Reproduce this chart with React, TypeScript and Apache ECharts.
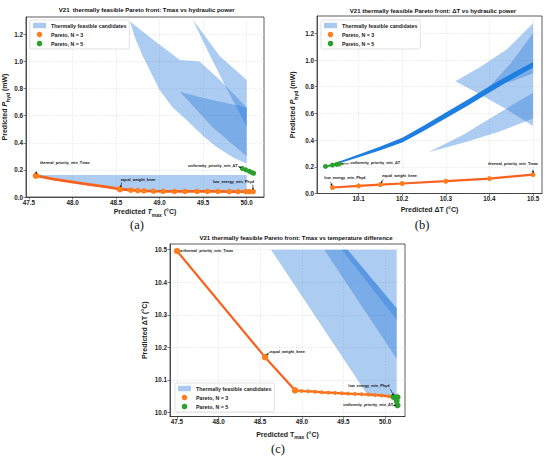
import React, { useEffect, useRef } from 'react';
import * as echarts from 'echarts';

// ---------- ticks ----------
const A_X_TICKS = [47.5, 48.0, 48.5, 49.0, 49.5, 50.0];
const A_Y_TICKS = [0.0, 0.2, 0.4, 0.6, 0.8, 1.0, 1.2];
const B_X_TICKS = [10.1, 10.2, 10.3, 10.4, 10.5];
const B_Y_TICKS = [0.0, 0.2, 0.4, 0.6, 0.8, 1.0, 1.2];
const C_X_TICKS = [47.5, 48.0, 48.5, 49.0, 49.5, 50.0];
const C_Y_TICKS = [10.0, 10.1, 10.2, 10.3, 10.4, 10.5];

// ---------- panel (a): Tmax vs Phyd ----------
const A_OR_X = [47.58, 47.78, 48.12, 48.39, 48.545, 48.67, 48.75, 48.82, 48.93, 49.04, 49.17, 49.29, 49.43, 49.55, 49.67, 49.80, 49.90, 49.99, 50.03, 50.075];
const A_OR_Y = [0.157, 0.132, 0.098, 0.075, 0.058, 0.050, 0.047, 0.045, 0.043, 0.042, 0.041, 0.041, 0.041, 0.041, 0.041, 0.040, 0.040, 0.040, 0.040, 0.040];
const A_OR_MARK = [1, 0, 0, 0, 1, 1, 1, 1, 1, 1, 1, 1, 1, 1, 1, 1, 1, 1, 1, 1];
const A_GR_X = [49.95, 49.99, 50.03, 50.06, 50.08];
const A_GR_Y = [0.21, 0.20, 0.19, 0.18, 0.175];
const A_BAND_TOP = 0.162;
const A_BAND_RIGHT = 50.0;
const A_FEAS_1 = [[48.66, 1.294], [48.93, 1.159], [49.234, 1.011], [49.46, 1.0], [49.693, 0.863], [50.0, 0.66], [50.0, 0.248], [49.85, 0.29], [49.65, 0.371], [49.5, 0.45], [49.31, 0.568], [49.15, 0.66], [49.0, 0.79], [48.81, 1.035], [48.72, 1.17]];
const A_FEAS_2 = [[49.379, 1.311], [49.69, 1.04], [50.0, 0.863], [50.0, 0.52], [49.77, 0.80], [49.57, 1.055]];
const A_FEAS_3 = [[49.234, 0.777], [49.5, 0.73], [50.0, 0.66], [50.0, 0.30], [49.8, 0.41], [49.6, 0.52]];
const A_ANN_LABELS = ['thermal_priority_min_Tmax', 'equal_weight_knee', 'uniformity_priority_min_ΔT', 'low_energy_min_Phyd'];
const A_ANN_TEXT = [[47.626, 0.253], [48.553, 0.125], [49.325, 0.231], [49.613, 0.113]];
const A_ANN_FROM = [[47.585, 0.19], [48.565, 0.108], [49.9, 0.226], [50.07, 0.092]];
const A_ANN_TO = [[47.582, 0.168], [48.552, 0.07], [49.94, 0.215], [50.073, 0.052]];

// ---------- panel (b): dT vs Phyd ----------
const B_OR_X = [10.04, 10.1, 10.15, 10.2, 10.3, 10.4, 10.5];
const B_OR_Y = [0.045, 0.057, 0.067, 0.075, 0.092, 0.112, 0.142];
const B_GR_X = [10.024, 10.04, 10.05, 10.056];
const B_GR_Y = [0.203, 0.213, 0.218, 0.222];
const B_CLOUD_X = [10.04, 10.1, 10.15, 10.2, 10.25, 10.3, 10.35, 10.4, 10.45, 10.5];
const B_CLOUD_UP = [0.221, 0.293, 0.352, 0.417, 0.51, 0.607, 0.703, 0.803, 0.897, 0.985];
const B_CLOUD_LO = [0.209, 0.271, 0.324, 0.383, 0.47, 0.563, 0.657, 0.757, 0.853, 0.945];
const B_FEAS_1 = [[10.322, 0.842], [10.38, 0.95], [10.44, 1.08], [10.5, 1.275], [10.5, 0.505], [10.44, 0.63], [10.38, 0.74]];
const B_FEAS_2 = [[10.26, 0.31], [10.34, 0.44], [10.42, 0.60], [10.5, 0.755], [10.5, 0.5625], [10.42, 0.46], [10.34, 0.38]];
const B_FEAS_3 = [[10.40, 0.80], [10.45, 0.98], [10.5, 1.20], [10.5, 0.90], [10.45, 0.84]];
const B_ANN_LABELS = ['low_energy_min_Phyd', 'equal_weight_knee', 'uniformity_priority_min_ΔT', 'thermal_priority_min_Tmax'];
const B_ANN_TEXT = [[10.0213, 0.1125], [10.154, 0.13], [10.081, 0.225], [10.397, 0.22]];
const B_ANN_FROM = [[10.036, 0.085], [10.157, 0.104], [10.078, 0.223], [10.5, 0.18]];
const B_ANN_TO = [[10.039, 0.056], [10.151, 0.077], [10.06, 0.222], [10.5, 0.152]];

// ---------- panel (c): Tmax vs dT ----------
const C_OR_X = [47.5, 48.558, 48.918, 48.999, 49.078, 49.159, 49.239, 49.318, 49.399, 49.479, 49.558, 49.639, 49.719, 49.798, 49.88, 49.96, 50.04, 50.10];
const C_OR_Y = [10.496, 10.170, 10.068, 10.066, 10.065, 10.064, 10.062, 10.061, 10.060, 10.059, 10.058, 10.057, 10.056, 10.055, 10.054, 10.052, 10.050, 10.048];
const C_OR_BIG = [1, 1, 1, 0, 0, 0, 0, 0, 0, 0, 0, 0, 0, 0, 0, 0, 0, 0];
const C_GR_X = [50.10, 50.13, 50.15, 50.14, 50.15];
const C_GR_Y = [10.048, 10.044, 10.047, 10.035, 10.022];
const C_FEAS_1 = [[48.63, 10.5], [50.14, 10.5], [50.14, 10.048], [49.80, 10.05]];
const C_FEAS_2 = [[49.27, 10.5], [49.55, 10.5], [50.14, 10.32], [50.14, 10.165]];
const C_FEAS_3 = [[49.48, 10.5], [49.55, 10.5], [50.14, 10.32], [50.14, 10.285]];
const C_ANN_LABELS = ['thermal_priority_min_Tmax', 'equal_weight_knee', 'low_energy_min_Phyd', 'uniformity_priority_min_ΔT'];
const C_ANN_TEXT = [[47.576, 10.496], [48.618, 10.187], [49.559, 10.082], [49.499, 10.0215]];
const C_ANN_FROM = [[47.574, 10.496], [48.615, 10.185], [50.06, 10.073], [50.09, 10.022]];
const C_ANN_TO = [[47.53, 10.496], [48.572, 10.176], [50.105, 10.052], [50.135, 10.022]];

// ---------- styling ----------
const FONT = 'Liberation Sans, Arial, sans-serif';
const SERIF = 'Liberation Serif, Times New Roman, serif';
const LIGHT = 'rgba(40,122,218,0.38)';
const LEGEND_LIGHT = '#a9c9ee';
const CLOUD = '#1f7fe0';
const ORANGE_LINE = '#f8621e';
const ORANGE = '#ff7f1e';
const GREEN = '#2ca02c';
const INK = '#222';

const NAME_RICH = {
  n: { fontSize: 7, fontWeight: 'bold', fontFamily: FONT, color: INK, lineHeight: 11, verticalAlign: 'middle' },
  i: { fontSize: 7, fontWeight: 'bold', fontStyle: 'italic', fontFamily: FONT, color: INK, lineHeight: 11, verticalAlign: 'middle' },
  s: { fontSize: 5, fontWeight: 'bold', fontFamily: FONT, color: INK, verticalAlign: 'bottom' },
};

function axis(gridIndex: number, min: number, max: number, ticks: number[], name: string, nameGap: number, labelMargin: number) {
  return {
    type: 'value',
    gridIndex,
    min,
    max,
    name,
    nameLocation: 'middle',
    nameGap,
    nameTextStyle: { rich: NAME_RICH },
    axisLine: { show: true, onZero: false, lineStyle: { color: '#333', width: 0.8 } },
    axisTick: { show: true, length: 2.5, customValues: ticks, lineStyle: { color: '#333', width: 0.6 } },
    axisLabel: {
      customValues: ticks,
      formatter: (v: number) => v.toFixed(1),
      fontSize: 6.3,
      fontWeight: 'bold',
      fontFamily: FONT,
      color: INK,
      margin: labelMargin,
    },
    splitLine: { show: true, lineStyle: { color: '#dcdcdc', width: 0.6, type: [1.5, 1.5] } },
  };
}

function polySeries(name: string, gi: number, polys: { pts: number[][]; color: string }[], z: number) {
  return {
    type: 'custom',
    name,
    xAxisIndex: gi,
    yAxisIndex: gi,
    coordinateSystem: 'cartesian2d',
    data: polys.map((p) => p.pts[0]),
    encode: { x: 0, y: 1 },
    itemStyle: { color: LEGEND_LIGHT },
    z,
    silent: true,
    renderItem: (params: any, api: any) => {
      const p = polys[params.dataIndex];
      return {
        type: 'polygon',
        shape: { points: p.pts.map((q) => api.coord(q)) },
        style: { fill: p.color, stroke: 'none' },
      };
    },
  };
}

function annSeries(gi: number, labels: string[], text: number[][], from: number[][], to: number[][]) {
  return {
    type: 'custom',
    name: 'annotations',
    xAxisIndex: gi,
    yAxisIndex: gi,
    coordinateSystem: 'cartesian2d',
    data: to.map((t) => t),
    encode: { x: 0, y: 1 },
    z: 10,
    silent: true,
    renderItem: (params: any, api: any) => {
      const i = params.dataIndex;
      const p = api.coord(to[i]);
      const s = api.coord(from[i]);
      const t = api.coord(text[i]);
      const dx = p[0] - s[0];
      const dy = p[1] - s[1];
      const len = Math.hypot(dx, dy) || 1;
      const ux = dx / len;
      const uy = dy / len;
      const hl = 2.2;
      const hw = 1.1;
      const bx = p[0] - ux * hl;
      const by = p[1] - uy * hl;
      return {
        type: 'group',
        children: [
          { type: 'line', shape: { x1: s[0], y1: s[1], x2: bx, y2: by }, style: { stroke: '#111', lineWidth: 0.6 } },
          { type: 'polygon', shape: { points: [p, [bx - uy * hw, by + ux * hw], [bx + uy * hw, by - ux * hw]] }, style: { fill: '#111' } },
          {
            type: 'text',
            x: t[0],
            y: t[1],
            style: {
              text: labels[i],
              fontSize: 3.8,
              fontWeight: 'bold',
              fontFamily: FONT,
              fill: '#111',
              align: 'left',
              verticalAlign: 'middle',
              textAlign: 'left',
              textVerticalAlign: 'middle',
            },
          },
        ],
      };
    },
  };
}

function lineSeries(name: string, gi: number, xs: number[], ys: number[], lineColor: string, markColor: string, sizes: number[], z: number, width: number) {
  return {
    type: 'line',
    name,
    xAxisIndex: gi,
    yAxisIndex: gi,
    data: xs.map((x, i) => ({
      value: [x, ys[i]],
      symbol: sizes[i] > 0 ? 'circle' : 'none',
      symbolSize: sizes[i] > 0 ? sizes[i] : 0,
    })),
    showAllSymbol: true,
    lineStyle: { color: lineColor, width },
    itemStyle: { color: markColor, borderWidth: 0 },
    z,
    silent: true,
  };
}

function legend(left: number, top: number) {
  return {
    left,
    top,
    orient: 'vertical',
    backgroundColor: '#fff',
    borderColor: '#cfcfcf',
    borderWidth: 0.6,
    borderRadius: 2,
    padding: [2.5, 3, 2.5, 3],
    itemGap: 3,
    itemWidth: 13,
    itemHeight: 5.5,
    selectedMode: false,
    textStyle: { fontSize: 5.3, fontWeight: 'bold', fontFamily: FONT, color: INK, lineHeight: 6 },
    data: [
      { name: 'Thermally feasible candidates', icon: 'rect', itemStyle: { color: LEGEND_LIGHT } },
      { name: 'Pareto, N = 3', icon: 'circle', itemStyle: { color: ORANGE } },
      { name: 'Pareto, N = 5', icon: 'circle', itemStyle: { color: GREEN } },
    ],
  };
}

function titleText(text: string, x: number, y: number, size: number, family: string, weight: string) {
  return {
    type: 'text',
    x,
    y,
    silent: true,
    z: 20,
    style: {
      text,
      fontSize: size,
      fontWeight: weight,
      fontFamily: family,
      fill: '#111',
      align: 'center',
      verticalAlign: 'middle',
      textAlign: 'center',
      textVerticalAlign: 'middle',
    },
  };
}

function buildOption() {
  const aBand: number[][] = [[A_OR_X[0], A_BAND_TOP], [A_BAND_RIGHT, A_BAND_TOP]];
  const aLow = A_OR_X.map((x, i) => [x, A_OR_Y[i]]).filter((p) => p[0] <= A_BAND_RIGHT);
  aBand.push([A_BAND_RIGHT, aLow[aLow.length - 1][1]]);
  for (let i = aLow.length - 1; i >= 0; i--) aBand.push(aLow[i]);

  const bCloud: number[][] = B_CLOUD_X.map((x, i) => [x, B_CLOUD_UP[i]]);
  for (let i = B_CLOUD_X.length - 1; i >= 0; i--) bCloud.push([B_CLOUD_X[i], B_CLOUD_LO[i]]);

  const aSizes = A_OR_MARK.map((m, i) => (m ? (i === 0 || i === 4 ? 6.5 : 5.5) : 0));
  const cSizes = C_OR_BIG.map((b) => (b ? 6.5 : 4));

  return {
    animation: false,
    backgroundColor: '#fff',
    grid: [
      { left: 26, top: 17, width: 238, height: 180, show: true, borderColor: '#333', borderWidth: 0.8, backgroundColor: 'transparent' },
      { left: 317, top: 16, width: 225, height: 177.5, show: true, borderColor: '#333', borderWidth: 0.8, backgroundColor: 'transparent' },
      { left: 170, top: 244, width: 235, height: 172.5, show: true, borderColor: '#333', borderWidth: 0.8, backgroundColor: 'transparent' },
    ],
    xAxis: [
      axis(0, 47.466, 50.199, A_X_TICKS, '{n|Predicted }{i|T}{s|max}{n| (°C)}', 9, 2),
      axis(1, 10.0046, 10.5206, B_X_TICKS, '{n|Predicted ΔT (°C)}', 10, 2),
      axis(2, 47.416, 50.24, C_X_TICKS, '{n|Predicted T}{s|max}{n| (°C)}', 12, 2),
    ],
    yAxis: [
      axis(0, 0, 1.328, A_Y_TICKS, '{n|Predicted }{i|P}{s|hyd}{n| (mW)}', 16, 3),
      axis(1, 0, 1.33, B_Y_TICKS, '{n|Predicted }{i|P}{s|hyd}{n| (mW)}', 19, 3),
      axis(2, 9.9877, 10.5175, C_Y_TICKS, '{n|Predicted ΔT (°C)}', 20, 3),
    ],
    legend: [legend(30, 20), legend(321, 20), legend(175, 383)],
    graphic: [
      titleText('V21  thermally feasible Pareto front: Tmax vs hydraulic power', 146.7, 10, 6, FONT, 'bold'),
      titleText('V21 thermally feasible Pareto front: ΔT vs hydraulic power', 433, 10.5, 6, FONT, 'bold'),
      titleText('V21 thermally feasible Pareto front: Tmax vs temperature difference', 296, 238.3, 6, FONT, 'bold'),
      titleText('(a)', 137, 225, 12.5, SERIF, 'normal'),
      titleText('(b)', 422, 225, 12.5, SERIF, 'normal'),
      titleText('(c)', 278, 449, 12.5, SERIF, 'normal'),
    ],
    series: [
      polySeries('Thermally feasible candidates', 0, [
        { pts: aBand, color: LIGHT },
        { pts: A_FEAS_1, color: LIGHT },
        { pts: A_FEAS_2, color: LIGHT },
        { pts: A_FEAS_3, color: LIGHT },
      ], 1),
      lineSeries('Pareto, N = 3', 0, A_OR_X, A_OR_Y, ORANGE_LINE, ORANGE, aSizes, 3, 2.8),
      lineSeries('Pareto, N = 5', 0, A_GR_X, A_GR_Y, GREEN, GREEN, A_GR_X.map(() => 5), 4, 2),
      annSeries(0, A_ANN_LABELS, A_ANN_TEXT, A_ANN_FROM, A_ANN_TO),

      polySeries('Thermally feasible candidates', 1, [
        { pts: B_FEAS_1, color: LIGHT },
        { pts: B_FEAS_2, color: LIGHT },
        { pts: B_FEAS_3, color: LIGHT },
      ], 1),
      polySeries('cloud', 1, [{ pts: bCloud, color: CLOUD }], 2),
      lineSeries('Pareto, N = 3', 1, B_OR_X, B_OR_Y, ORANGE_LINE, ORANGE, B_OR_X.map(() => 5), 3, 2.2),
      lineSeries('Pareto, N = 5', 1, B_GR_X, B_GR_Y, GREEN, GREEN, B_GR_X.map(() => 5), 4, 2),
      annSeries(1, B_ANN_LABELS, B_ANN_TEXT, B_ANN_FROM, B_ANN_TO),

      polySeries('Thermally feasible candidates', 2, [
        { pts: C_FEAS_1, color: LIGHT },
        { pts: C_FEAS_2, color: LIGHT },
        { pts: C_FEAS_3, color: LIGHT },
      ], 1),
      lineSeries('Pareto, N = 3', 2, C_OR_X, C_OR_Y, ORANGE_LINE, ORANGE, cSizes, 3, 2.2),
      lineSeries('Pareto, N = 5', 2, C_GR_X, C_GR_Y, GREEN, GREEN, C_GR_X.map(() => 6), 4, 1.5),
      annSeries(2, C_ANN_LABELS, C_ANN_TEXT, C_ANN_FROM, C_ANN_TO),
    ],
  };
}

export default function App() {
  const ref = useRef<HTMLDivElement>(null);
  useEffect(() => {
    if (!ref.current) return;
    const chart = echarts.init(ref.current, undefined, { renderer: 'svg' });
    chart.setOption(buildOption() as any);
    return () => chart.dispose();
  }, []);
  return <div ref={ref} style={{ position: 'fixed', left: 0, top: 0, width: 550, height: 459, background: '#fff' }} />;
}
